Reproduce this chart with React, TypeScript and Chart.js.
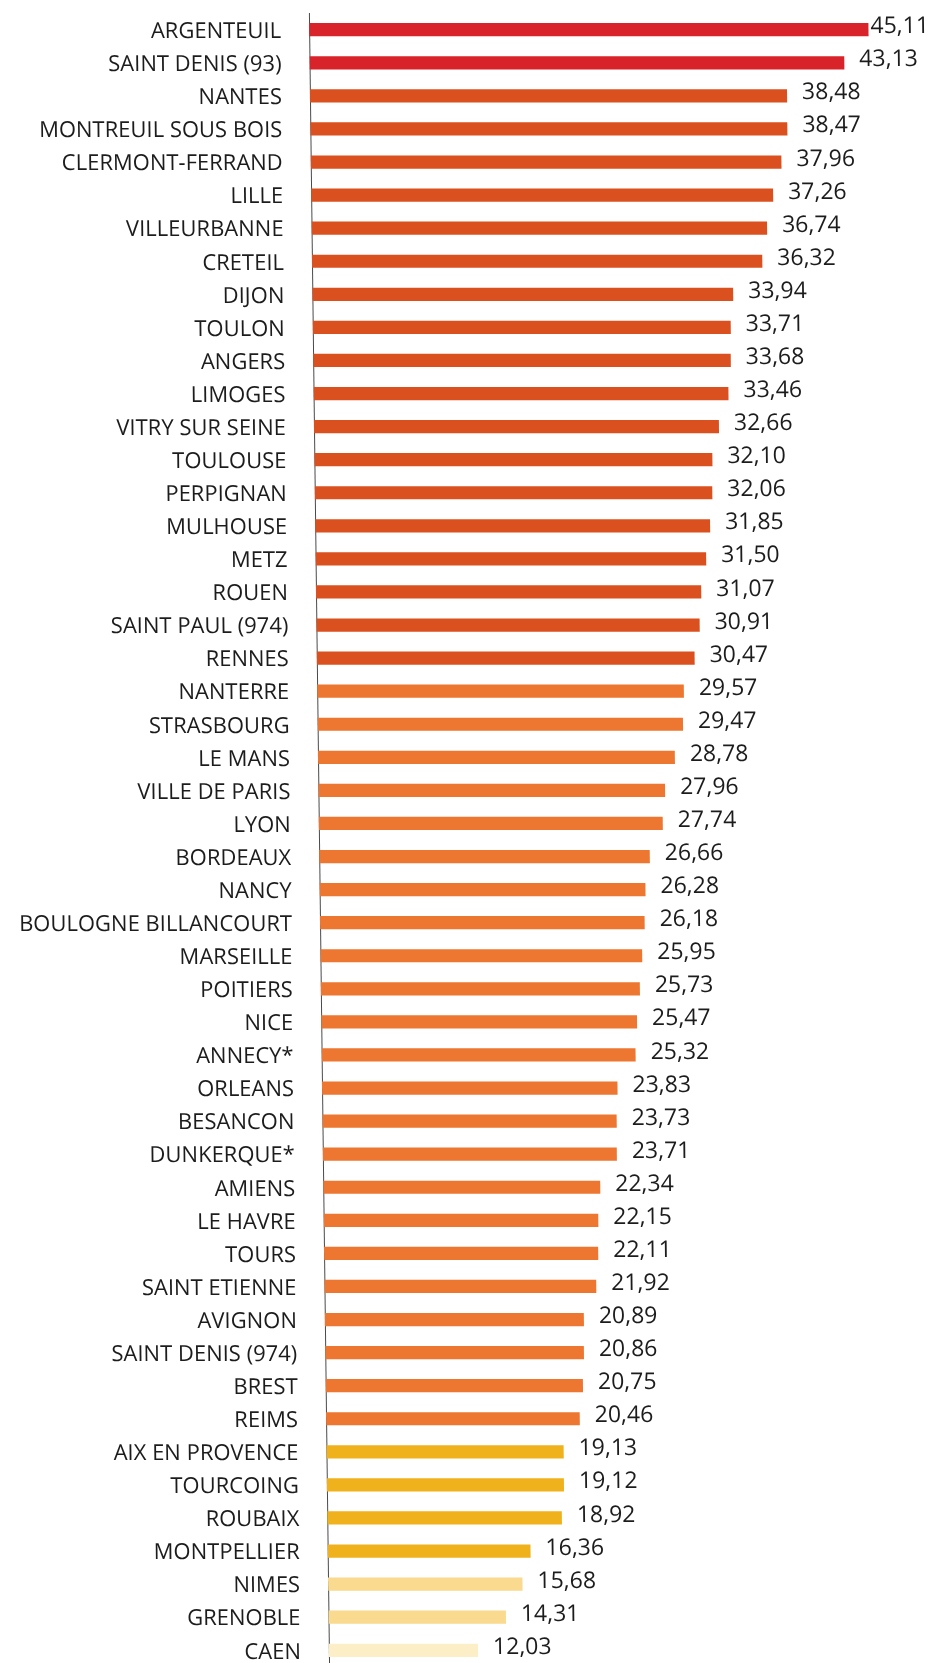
import { useEffect, useRef } from "react";
import { Chart, registerables } from "chart.js";

Chart.register(...registerables);

const cities = [
  "ARGENTEUIL", "SAINT DENIS (93)", "NANTES", "MONTREUIL SOUS BOIS", "CLERMONT-FERRAND",
  "LILLE", "VILLEURBANNE", "CRETEIL", "DIJON", "TOULON",
  "ANGERS", "LIMOGES", "VITRY SUR SEINE", "TOULOUSE", "PERPIGNAN",
  "MULHOUSE", "METZ", "ROUEN", "SAINT PAUL (974)", "RENNES",
  "NANTERRE", "STRASBOURG", "LE MANS", "VILLE DE PARIS", "LYON",
  "BORDEAUX", "NANCY", "BOULOGNE BILLANCOURT", "MARSEILLE", "POITIERS",
  "NICE", "ANNECY*", "ORLEANS", "BESANCON", "DUNKERQUE*",
  "AMIENS", "LE HAVRE", "TOURS", "SAINT ETIENNE", "AVIGNON",
  "SAINT DENIS (974)", "BREST", "REIMS", "AIX EN PROVENCE", "TOURCOING",
  "ROUBAIX", "MONTPELLIER", "NIMES", "GRENOBLE", "CAEN",
];

const values = [
  45.11, 43.13, 38.48, 38.47, 37.96,
  37.26, 36.74, 36.32, 33.94, 33.71,
  33.68, 33.46, 32.66, 32.1, 32.06,
  31.85, 31.5, 31.07, 30.91, 30.47,
  29.57, 29.47, 28.78, 27.96, 27.74,
  26.66, 26.28, 26.18, 25.95, 25.73,
  25.47, 25.32, 23.83, 23.73, 23.71,
  22.34, 22.15, 22.11, 21.92, 20.89,
  20.86, 20.75, 20.46, 19.13, 19.12,
  18.92, 16.36, 15.68, 14.31, 12.03,
];

// colour tier of each bar (index into tierColors)
const tiers = [
  0, 0, 1, 1, 1,
  1, 1, 1, 1, 1,
  1, 1, 1, 1, 1,
  1, 1, 1, 1, 1,
  2, 2, 2, 2, 2,
  2, 2, 2, 2, 2,
  2, 2, 2, 2, 2,
  2, 2, 2, 2, 2,
  2, 2, 2, 3, 3,
  3, 3, 4, 4, 5,
];

const tierColors = ["#d8232a", "#da511f", "#ed7631", "#f0b21c", "#f9da8e", "#fcefc8"];

const FONT = "'Open Sans', 'Noto Sans', sans-serif";

// slight skew of the scanned original (horizontal drift per vertical pixel)
const SKEW = 0.0122;
const SKEW_CENTER = 840;

const skewPlugin = {
  id: "skew",
  beforeDraw(chart: any) {
    const ctx = chart.ctx;
    ctx.save();
    ctx.transform(1, 0, SKEW, 1, -SKEW * SKEW_CENTER, 0);
  },
  afterDraw(chart: any) {
    chart.ctx.restore();
  },
};

const valueLabels = {
  id: "valueLabels",
  afterDatasetsDraw(chart: any) {
    const ctx = chart.ctx;
    const meta = chart.getDatasetMeta(0);
    ctx.save();
    ctx.font = `23px ${FONT}`;
    ctx.fillStyle = "#1c1c1c";
    ctx.textBaseline = "middle";
    ctx.textAlign = "left";
    meta.data.forEach((bar: any, i: number) => {
      const text = values[i].toFixed(2).replace(".", ",");
      const w = ctx.measureText(text).width;
      const shift = SKEW * (bar.y - SKEW_CENTER);
      const x = Math.min(bar.x + 15, chart.width - w - 10 - shift);
      ctx.fillText(text, x, bar.y - 3);
    });
    ctx.restore();
  },
};

export default function App() {
  const ref = useRef<HTMLCanvasElement | null>(null);

  useEffect(() => {
    if (!ref.current) return;
    const chart = new Chart(ref.current, {
      type: "bar",
      data: {
        labels: cities,
        datasets: [
          {
            data: values,
            backgroundColor: tiers.map((t) => tierColors[t]),
            borderWidth: 0,
            barPercentage: 0.4,
            categoryPercentage: 1,
          },
        ],
      },
      options: {
        indexAxis: "y",
        responsive: false,
        animation: false,
        devicePixelRatio: 1,
        layout: { padding: { top: 12, bottom: 13, left: 0, right: 0 } },
        plugins: {
          legend: { display: false },
          tooltip: { enabled: false },
        },
        scales: {
          x: { display: false, min: 0, max: 50 },
          y: {
            grid: { display: false, drawTicks: true, tickLength: 28 },
            border: { display: true, color: "#4a4a4a", width: 1 },
            ticks: {
              autoSkip: false,
              padding: 0,
              labelOffset: 2,
              color: "#1c1c1c",
              font: { family: FONT, size: 22 },
            },
            afterFit: (scale: any) => {
              scale.width = 319;
            },
          },
        },
      },
      plugins: [skewPlugin, valueLabels],
    });
    return () => chart.destroy();
  }, []);

  return (
    <div
      style={{
        position: "fixed",
        top: 0,
        left: 0,
        width: 939,
        height: 1663,
        overflow: "hidden",
        background: "#ffffff",
      }}
    >
      <canvas ref={ref} width={939} height={1680} style={{ display: "block" }} />
    </div>
  );
}
